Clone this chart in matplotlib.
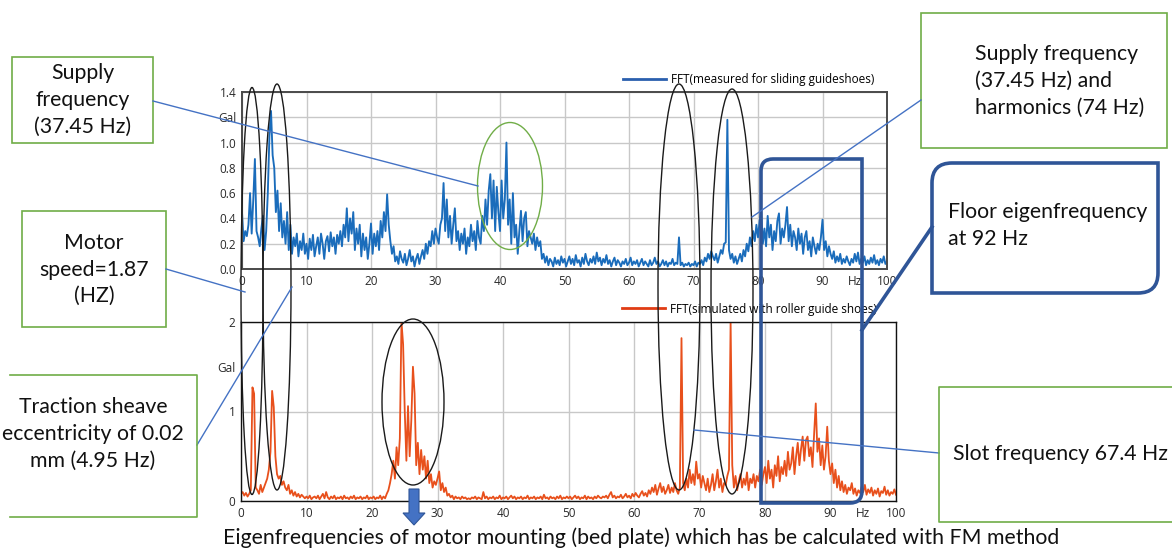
import matplotlib
matplotlib.use('Agg')
import matplotlib.pyplot as plt
from matplotlib.patches import Ellipse, Rectangle, PathPatch, Polygon
from matplotlib.path import Path
from matplotlib.lines import Line2D
import numpy as np

# ---------------- data ----------------
freq_hz = np.arange(0, 100.001, 0.25)

measured_sliding = [
    0.45, 0.22, 0.30, 0.26, 0.35, 0.60, 0.28, 0.55, 0.87, 0.30, 0.25, 0.18, 0.32, 0.42, 0.15, 0.30, 0.60, 1.05, 1.25, 0.90,
    0.80, 0.45, 0.62, 0.30, 0.52, 0.25, 0.38, 0.20, 0.45, 0.15, 0.35, 0.12, 0.25, 0.18, 0.28, 0.10, 0.22, 0.15, 0.28, 0.12,
    0.20, 0.08, 0.24, 0.15, 0.27, 0.10, 0.18, 0.25, 0.12, 0.28, 0.20, 0.08, 0.22, 0.26, 0.14, 0.29, 0.18, 0.25, 0.12, 0.27,
    0.20, 0.30, 0.18, 0.35, 0.25, 0.48, 0.22, 0.40, 0.28, 0.45, 0.15, 0.32, 0.20, 0.35, 0.10, 0.28, 0.15, 0.25, 0.08, 0.20,
    0.36, 0.12, 0.28, 0.18, 0.30, 0.15, 0.38, 0.25, 0.45, 0.30, 0.59, 0.35, 0.22, 0.12, 0.18, 0.06, 0.10, 0.04, 0.14, 0.08,
    0.05, 0.12, 0.03, 0.08, 0.15, 0.06, 0.10, 0.02, 0.08, 0.12, 0.04, 0.10, 0.15, 0.08, 0.20, 0.12, 0.22, 0.18, 0.30, 0.20,
    0.32, 0.25, 0.20, 0.35, 0.40, 0.68, 0.30, 0.55, 0.25, 0.42, 0.20, 0.35, 0.48, 0.22, 0.30, 0.15, 0.28, 0.20, 0.32, 0.12,
    0.25, 0.18, 0.35, 0.22, 0.30, 0.15, 0.38, 0.25, 0.20, 0.42, 0.30, 0.55, 0.35, 0.62, 0.75, 0.40, 0.70, 0.30, 0.65, 0.45,
    0.30, 0.70, 0.40, 0.55, 1.00, 0.35, 0.55, 0.20, 0.60, 0.25, 0.35, 0.12, 0.30, 0.46, 0.22, 0.40, 0.45, 0.18, 0.30, 0.25,
    0.20, 0.28, 0.15, 0.25, 0.18, 0.22, 0.08, 0.12, 0.05, 0.10, 0.03, 0.08, 0.06, 0.02, 0.09, 0.04, 0.07, 0.03, 0.10, 0.05,
    0.08, 0.02, 0.06, 0.10, 0.04, 0.08, 0.03, 0.11, 0.05, 0.07, 0.02, 0.09, 0.04, 0.12, 0.06, 0.03, 0.08, 0.05, 0.10, 0.04,
    0.13, 0.06, 0.09, 0.03, 0.08, 0.05, 0.11, 0.04, 0.07, 0.02, 0.06, 0.09, 0.03, 0.07, 0.05, 0.02, 0.06, 0.04, 0.08, 0.03,
    0.05, 0.09, 0.03, 0.06, 0.04, 0.07, 0.02, 0.05, 0.08, 0.03, 0.06, 0.04, 0.02, 0.07, 0.03, 0.05, 0.09, 0.04, 0.06, 0.02,
    0.04, 0.07, 0.03, 0.06, 0.02, 0.05, 0.04, 0.08, 0.03, 0.05, 0.04, 0.25, 0.03, 0.05, 0.02, 0.04, 0.03, 0.05, 0.02, 0.04,
    0.03, 0.06, 0.02, 0.05, 0.04, 0.07, 0.03, 0.09, 0.06, 0.12, 0.08, 0.14, 0.10, 0.07, 0.12, 0.05, 0.10, 0.15, 0.12, 0.20,
    0.21, 1.18, 0.15, 0.08, 0.12, 0.05, 0.10, 0.04, 0.08, 0.12, 0.06, 0.15, 0.10, 0.20, 0.14, 0.25, 0.18, 0.30, 0.22, 0.35,
    0.25, 0.38, 0.45, 0.20, 0.32, 0.18, 0.42, 0.25, 0.35, 0.15, 0.30, 0.22, 0.38, 0.44, 0.20, 0.32, 0.25, 0.35, 0.49, 0.22,
    0.35, 0.18, 0.30, 0.25, 0.15, 0.32, 0.20, 0.28, 0.12, 0.25, 0.30, 0.15, 0.22, 0.10, 0.25, 0.18, 0.12, 0.20, 0.15, 0.25,
    0.39, 0.15, 0.22, 0.10, 0.18, 0.12, 0.08, 0.14, 0.05, 0.10, 0.06, 0.12, 0.04, 0.08, 0.05, 0.10, 0.06, 0.03, 0.08, 0.05,
    0.12, 0.06, 0.13, 0.04, 0.08, 0.05, 0.10, 0.03, 0.07, 0.04, 0.09, 0.05, 0.11, 0.04, 0.07, 0.03, 0.08, 0.05, 0.10, 0.04,
    0.06,
]

simulated_roller = [
    0.08, 0.10, 0.06, 0.09, 0.05, 0.08, 0.12, 1.27, 1.20, 0.15, 0.12, 0.08, 0.18, 0.10, 0.15, 0.20, 0.25, 0.35, 0.55, 1.23,
    1.05, 0.50, 0.30, 0.25, 0.28, 0.18, 0.22, 0.15, 0.12, 0.18, 0.08, 0.12, 0.06, 0.10, 0.05, 0.08, 0.04, 0.07, 0.05, 0.03,
    0.05, 0.03, 0.06, 0.02, 0.04, 0.05, 0.03, 0.06, 0.02, 0.05, 0.08, 0.03, 0.10, 0.04, 0.02, 0.05, 0.03, 0.06, 0.02, 0.04,
    0.03, 0.05, 0.02, 0.06, 0.03, 0.04, 0.02, 0.05, 0.03, 0.06, 0.02, 0.04, 0.03, 0.05, 0.02, 0.04, 0.03, 0.06, 0.02, 0.04,
    0.03, 0.05, 0.02, 0.04, 0.03, 0.06, 0.02, 0.05, 0.03, 0.08, 0.12, 0.20, 0.30, 0.45, 0.25, 0.60, 0.40, 0.70, 2.00, 1.75,
    1.00, 0.45, 1.06, 0.50, 0.90, 1.50, 1.20, 0.40, 0.65, 0.30, 0.57, 0.35, 0.50, 0.25, 0.45, 0.20, 0.30, 0.15, 0.22, 0.18,
    0.25, 0.33, 0.12, 0.20, 0.10, 0.15, 0.06, 0.08, 0.04, 0.06, 0.02, 0.05, 0.03, 0.04, 0.02, 0.05, 0.03, 0.04, 0.02, 0.03,
    0.02, 0.04, 0.03, 0.05, 0.02, 0.04, 0.03, 0.02, 0.10, 0.03, 0.05, 0.02, 0.04, 0.03, 0.05, 0.02, 0.04, 0.03, 0.06, 0.02,
    0.04, 0.03, 0.05, 0.02, 0.04, 0.06, 0.03, 0.05, 0.02, 0.04, 0.03, 0.05, 0.02, 0.04, 0.03, 0.06, 0.02, 0.04, 0.03, 0.05,
    0.02, 0.04, 0.03, 0.05, 0.02, 0.07, 0.03, 0.04, 0.02, 0.05, 0.03, 0.04, 0.02, 0.05, 0.03, 0.06, 0.02, 0.04, 0.03, 0.05,
    0.03, 0.05, 0.02, 0.04, 0.06, 0.03, 0.05, 0.02, 0.04, 0.03, 0.06, 0.02, 0.05, 0.03, 0.04, 0.02, 0.05, 0.03, 0.06, 0.04,
    0.03, 0.05, 0.04, 0.06, 0.03, 0.07, 0.10, 0.04, 0.06, 0.03, 0.05, 0.04, 0.07, 0.03, 0.05, 0.08, 0.04, 0.06, 0.03, 0.08,
    0.05, 0.09, 0.06, 0.04, 0.08, 0.11, 0.06, 0.09, 0.05, 0.12, 0.08, 0.15, 0.10, 0.18, 0.07, 0.14, 0.20, 0.10, 0.16, 0.08,
    0.12, 0.18, 0.09, 0.15, 0.10, 0.20, 0.12, 0.08, 0.15, 1.82, 0.20, 0.12, 0.25, 0.15, 0.35, 0.20, 0.30, 0.18, 0.44, 0.25,
    0.30, 0.15, 0.28, 0.20, 0.12, 0.25, 0.10, 0.18, 0.30, 0.12, 0.22, 0.35, 0.15, 0.25, 0.10, 0.20, 0.18, 0.28, 0.35, 2.00,
    0.40, 0.15, 0.28, 0.12, 0.22, 0.30, 0.15, 0.25, 0.18, 0.32, 0.12, 0.25, 0.20, 0.30, 0.15, 0.28, 0.22, 0.35, 0.18, 0.30,
    0.38, 0.20, 0.45, 0.25, 0.35, 0.15, 0.40, 0.28, 0.50, 0.22, 0.38, 0.30, 0.45, 0.28, 0.55, 0.35, 0.42, 0.60, 0.30, 0.50,
    0.65, 0.40, 0.58, 0.72, 0.45, 0.68, 0.72, 0.50, 0.60, 0.38, 0.75, 1.09, 0.55, 0.70, 0.40, 0.62, 0.35, 0.50, 0.83, 0.45,
    0.30, 0.42, 0.20, 0.35, 0.15, 0.28, 0.12, 0.22, 0.10, 0.18, 0.08, 0.15, 0.12, 0.20, 0.08, 0.14, 0.06, 0.12, 0.09, 0.16,
    0.10, 0.18, 0.07, 0.13, 0.09, 0.15, 0.06, 0.12, 0.08, 0.14, 0.05, 0.11, 0.09, 0.16, 0.07, 0.12, 0.06, 0.10, 0.08, 0.13,
    0.07,
]

x_major_ticks = [0, 10, 20, 30, 40, 50, 60, 70, 80, 90, 100]
x_major_labels = ['0', '10', '20', '30', '40', '50', '60', '70', '80', '90', '100']
top_y_ticks = [0.0, 0.2, 0.4, 0.6, 0.8, 1.0, 1.2, 1.4]
top_y_labels = ['0.0', '0.2', '0.4', '0.6', '0.8', '1.0', 'Gal', '1.4']
bot_y_ticks = [0, 1, 2]
bot_y_labels = ['0', '1', '2']

legend_top = 'FFT(measured for sliding guideshoes)'
legend_bot = 'FFT(simulated with roller guide shoes)'

# ---------------- figure ----------------
W, H = 1172, 552
fig = plt.figure(figsize=(W / 100, H / 100), dpi=100)
fig.patch.set_facecolor('white')

TICK_FONT = 'Open Sans'
ANN_FONT = 'Lato'


def fax(l, t, r, b):
    return fig.add_axes([l / W, 1 - b / H, (r - l) / W, (b - t) / H])


def style_axes(ax, frame_color, frame_lw):
    ax.set_xlim(0, 100)
    ax.set_xticks(x_major_ticks)
    ax.set_xticklabels(x_major_labels)
    ax.set_xticks([95], minor=True)
    ax.set_xticklabels(['Hz'], minor=True)
    ax.grid(True, which='major', color='#c8c8c8', lw=1.0)
    ax.set_axisbelow(True)
    for s in ax.spines.values():
        s.set_color(frame_color)
        s.set_linewidth(frame_lw)
    ax.tick_params(which='both', length=0, labelsize=8.5, colors='#2a2a2a', pad=4)
    for lab in ax.get_xticklabels(which='both') + ax.get_yticklabels(which='both'):
        lab.set_family(TICK_FONT)


ax1 = fax(242, 92, 887, 269)
ax1.plot(freq_hz, measured_sliding, color='#1a6cbb', lw=1.35)
ax1.set_ylim(0, 1.4)
ax1.set_yticks(top_y_ticks)
ax1.set_yticklabels(top_y_labels)
style_axes(ax1, '#4a4a4a', 1.4)

ax2 = fax(241, 322, 896, 501)
ax2.plot(freq_hz, simulated_roller, color='#e8501c', lw=1.3)
ax2.set_ylim(0, 2)
ax2.set_yticks(bot_y_ticks)
ax2.set_yticklabels(bot_y_labels)
ax2.set_yticks([1.5], minor=True)
ax2.set_yticklabels(['Gal'], minor=True)
style_axes(ax2, '#111111', 1.0)

# legends
fig.legend([Line2D([], [], color='#2a5fae', lw=2)], [legend_top], loc='center left',
           bbox_to_anchor=(623 / W, 1 - 80 / H), frameon=False, handlelength=3.6,
           handletextpad=0.45, borderpad=0, borderaxespad=0,
           prop={'family': TICK_FONT, 'size': 8.5})
fig.legend([Line2D([], [], color='#e03c14', lw=2)], [legend_bot], loc='center left',
           bbox_to_anchor=(622 / W, 1 - 309 / H), frameon=False, handlelength=3.6,
           handletextpad=0.45, borderpad=0, borderaxespad=0,
           prop={'family': TICK_FONT, 'size': 8.5})

# ---------------- overlay (annotations, pixel coords) ----------------
ov = fig.add_axes([0, 0, 1, 1], zorder=20)
ov.set_xlim(0, W)
ov.set_ylim(H, 0)
ov.axis('off')

GREEN = '#70ad47'
BLUE = '#4472c4'
DBLUE = '#2f5597'


def diag_round(x0, y0, x1, y1, r, **kw):
    verts = [(x0, y0 + r), (x0, y1), (x1 - r, y1), (x1, y1), (x1, y1 - r),
             (x1, y0), (x0 + r, y0), (x0, y0), (x0, y0 + r), (x0, y0 + r)]
    codes = [Path.MOVETO, Path.LINETO, Path.LINETO, Path.CURVE3, Path.CURVE3,
             Path.LINETO, Path.LINETO, Path.CURVE3, Path.CURVE3, Path.CLOSEPOLY]
    return PathPatch(Path(verts, codes), **kw)


# ellipses
for (cx, cy, w, h) in [(252, 291, 22, 407), (277, 287, 28, 406),
                       (679, 287, 42, 406), (732, 291.5, 42, 405),
                       (413, 402, 62, 166)]:
    ov.add_patch(Ellipse((cx, cy), w, h, fill=False, ec='#1a1a1a', lw=1.0))
ov.add_patch(Ellipse((510, 186), 65, 127, fill=False, ec=GREEN, lw=1.0))

# blue rounded rectangle over charts
ov.add_patch(diag_round(761, 159, 862, 503, 12, fill=False, ec=DBLUE, lw=2.6))

# connector lines
for (xa, ya, xb, yb) in [(153, 101, 478, 186), (166, 269, 245, 292),
                         (197, 445, 292, 287), (921, 100, 752, 217),
                         (939, 453, 694, 430)]:
    ov.plot([xa, xb], [ya, yb], color=BLUE, lw=1.0)
ov.plot([932, 862], [227, 330], color=DBLUE, lw=2.6)

# green boxes
ov.add_patch(Rectangle((12, 57), 141, 86, fill=False, ec=GREEN, lw=1.2))
ov.add_patch(Rectangle((22, 211), 144, 116, fill=False, ec=GREEN, lw=1.2))
ov.plot([10, 197, 197, 10], [375, 375, 517, 517], color=GREEN, lw=1.2)
ov.add_patch(Rectangle((921, 13), 246, 135, fill=False, ec=GREEN, lw=1.2))
ov.plot([1180, 939, 939, 1180], [387, 387, 522, 522], color=GREEN, lw=1.2)

# floor eigenfrequency box
ov.add_patch(diag_round(932, 163, 1158, 293, 20, fc='white', ec=DBLUE, lw=2.6))

# down arrow
ov.add_patch(Polygon([(409, 489), (419, 489), (419, 513), (425, 513), (414, 525),
                      (403, 513), (409, 513)], closed=True, fc=BLUE, ec=DBLUE, lw=0.8))

ann = dict(family=ANN_FONT, fontsize=15.3, color='#111111', linespacing=1.42)
ov.text(82.5, 100, 'Supply\nfrequency\n(37.45 Hz)', ha='center', va='center', **ann)
ov.text(94, 269.5, 'Motor\nspeed=1.87\n(HZ)', ha='center', va='center', **ann)
ov.text(93, 434, 'Traction sheave\neccentricity of 0.02\nmm (4.95 Hz)', ha='center', va='center', **ann)
ov.text(975, 81, 'Supply frequency\n(37.45 Hz) and\nharmonics (74 Hz)', ha='left', va='center', **ann)
ov.text(948, 225.5, 'Floor eigenfrequency\nat 92 Hz', ha='left', va='center', **ann)
ov.text(953, 454, 'Slot frequency 67.4 Hz', ha='left', va='center', **ann)
ov.text(641, 538, 'Eigenfrequencies of motor mounting (bed plate) which has be calculated with FM method',
        ha='center', va='center', **ann)

fig.savefig('out.png', dpi=100)
